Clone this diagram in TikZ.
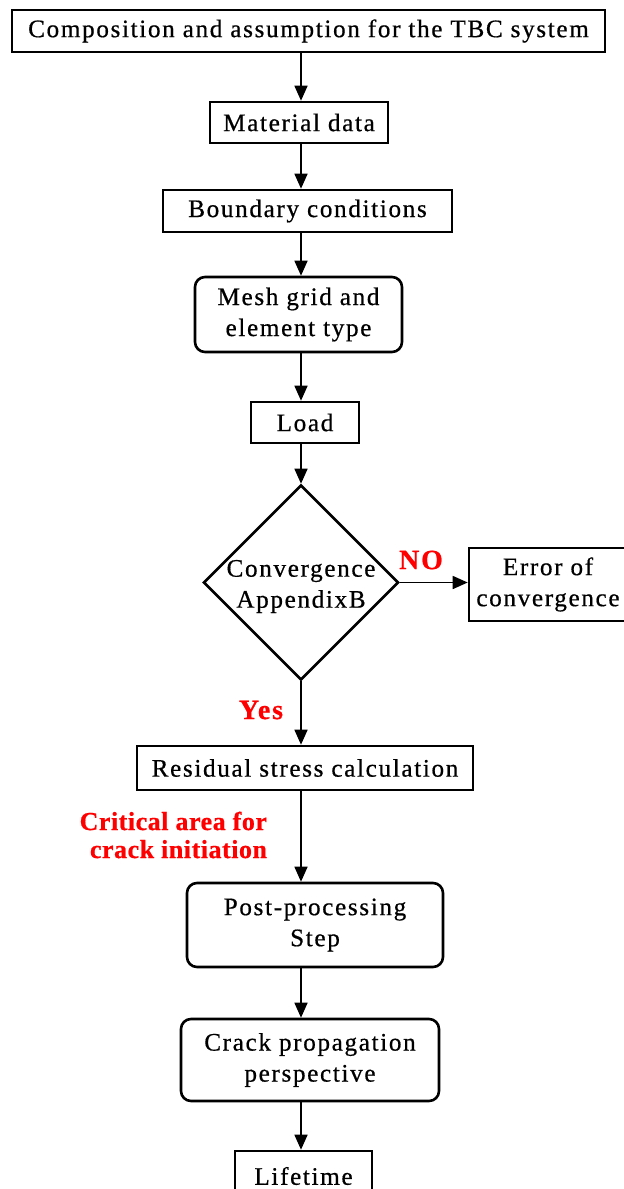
\documentclass[tikz,border=0pt]{standalone}
\usepackage{fontspec}
\setmainfont{Liberation Serif}[LetterSpace=6.5,FakeBold=0.6]
\usetikzlibrary{shapes.geometric,arrows.meta}

\tikzset{
  flowbox/.style={draw,line width=1.3pt,inner sep=0pt,align=center},
  roundbox/.style={flowbox,rounded corners=5pt},
  decision/.style={diamond,draw,line width=1.3pt,inner sep=0pt},
  redlabel/.style={text=red,font=\fontsize{13pt}{14pt}\selectfont\bfseries\addfontfeature{LetterSpace=2}},
  flowarrow/.style={-{Triangle[length=7.5pt,width=6.5pt]},line width=0.8pt},
}

\begin{document}
\begin{tikzpicture}[x=0.5pt,y=-0.5pt,font=\fontsize{12.6pt}{15.5pt}\selectfont]
\useasboundingbox (0,0) rectangle (623,1189);

% main chain
\node[flowbox,minimum width=296.5pt,minimum height=21pt] (comp) at (308.5,31) {Composition and assumption for the TBC system};
\node[flowbox,minimum width=89pt,minimum height=20.5pt] (mat) at (299,122.5) {Material data};
\node[flowbox,minimum width=144.5pt,minimum height=21pt] (bnd) at (307.5,211) {Boundary conditions};
\node[roundbox,minimum width=103.5pt,minimum height=37.5pt] (mesh) at (298.5,314.5) {Mesh grid and\\element type};
\node[flowbox,minimum width=54pt,minimum height=20.5pt] (load) at (305,422.5) {Load};
\node[decision,minimum width=97.5pt,minimum height=97.5pt,
      label={[align=center,yshift=-2pt]center:Convergence\\AppendixB}] (conv) at (301,582.5) {};
\node[flowbox,minimum width=79pt,minimum height=36.5pt] (err) at (548,584.5) {Error of\\convergence};
\node[flowbox,minimum width=168pt,minimum height=22pt] (res) at (305,768) {Residual stress calculation};
\node[roundbox,minimum width=128pt,minimum height=42pt] (post) at (315,925) {Post-processing\\Step};
\node[roundbox,minimum width=129pt,minimum height=41pt] (crack) at (310,1060) {Crack propagation\\perspective};
\node[flowbox,minimum width=68.5pt,minimum height=25pt] (life) at (303.5,1176) {Lifetime};

% red labels
\node[redlabel,font=\fontsize{14pt}{15pt}\selectfont\bfseries] (no) at (421,560) {NO};
\node[redlabel,font=\fontsize{14pt}{15pt}\selectfont\bfseries] (yes) at (261,710) {Yes};
\node[redlabel,align=right,anchor=east] (crit) at (274,835) {Critical area for\\crack initiation};

% connectors
\draw[flowarrow] (comp.south -| conv) -- (mat.north -| conv);
\draw[flowarrow] (mat.south -| conv) -- (bnd.north -| conv);
\draw[flowarrow] (bnd.south -| conv) -- (mesh.north -| conv);
\draw[flowarrow] (mesh.south -| conv) -- (load.north -| conv);
\draw[flowarrow] (load.south -| conv) -- (conv.north);
\draw[flowarrow] (conv.east) -- (err.west |- conv.east);
\draw[flowarrow] (conv.south) -- (res.north -| conv);
\draw[flowarrow] (res.south -| conv) -- (post.north -| conv);
\draw[flowarrow] (post.south -| conv) -- (crack.north -| conv);
\draw[flowarrow] (crack.south -| conv) -- (life.north -| conv);
\end{tikzpicture}
\end{document}
